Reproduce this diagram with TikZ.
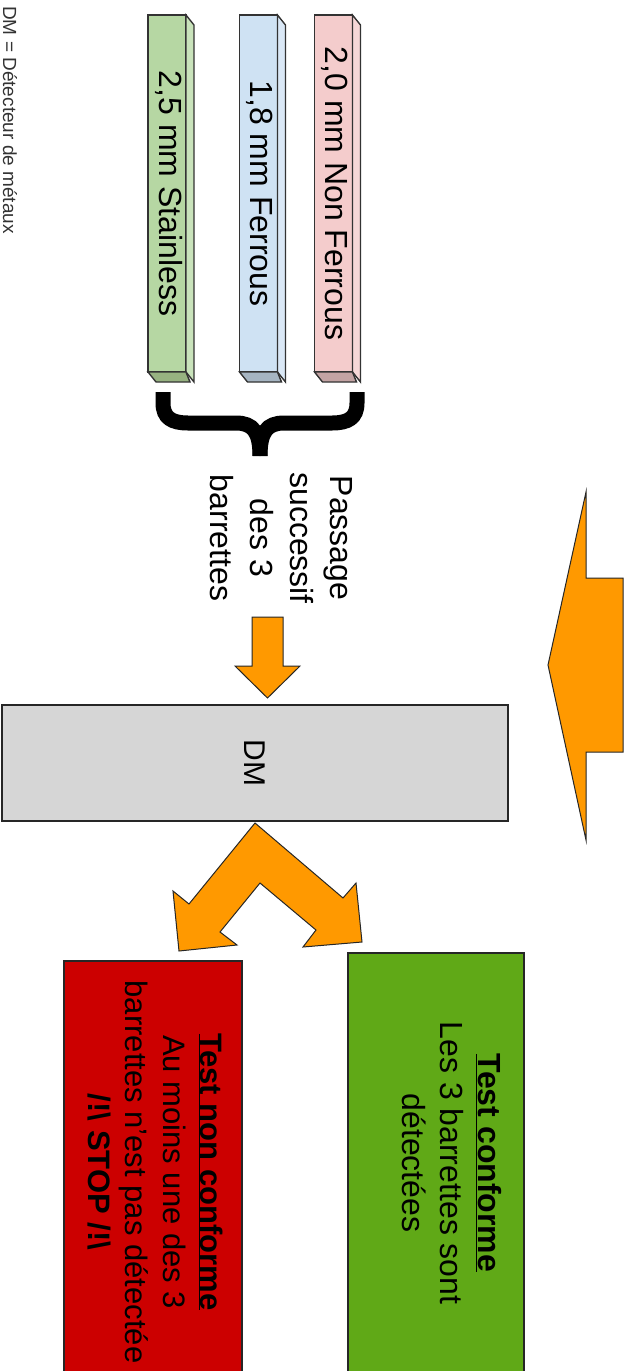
\documentclass[tikz,border=0pt]{standalone}
\usepackage{fontspec}
\setmainfont{Liberation Sans}
\usepackage{graphicx}
\definecolor{orng}{HTML}{FF9900}
\definecolor{dmgray}{HTML}{D6D6D6}
\definecolor{okgreen}{HTML}{60A917}
\definecolor{kored}{HTML}{CC0000}
\definecolor{gfront}{HTML}{B6D7A3}
\definecolor{gside}{HTML}{C9E3BB}
\definecolor{gbot}{HTML}{97B281}
\definecolor{bfront}{HTML}{CFE2F3}
\definecolor{bside}{HTML}{DAE8F6}
\definecolor{bbot}{HTML}{A6B5C2}
\definecolor{pfront}{HTML}{F4CCCC}
\definecolor{pside}{HTML}{F6D7D7}
\definecolor{pbot}{HTML}{C3A3A3}
\newcommand{\myvt}[1]{\rotatebox{-90}{\begin{tabular}{@{}c@{}}#1\end{tabular}}}
\begin{document}
\begin{tikzpicture}[x=1pt,y=-1pt,line join=miter,
  barface/.style={draw=black!80,line width=1.4pt,outer sep=0pt,inner sep=0pt,minimum width=34pt,minimum height=357pt,font=\fontsize{32}{38}\selectfont},
  facet/.style={draw=black!80,line width=1.4pt},
  blockarrow/.style={draw=black!85,fill=orng,line width=1pt},
  bigbox/.style={draw=black!85,line width=1.3pt,outer sep=0pt,inner sep=0pt},
  lbl/.style={font=\fontsize{32}{38}\selectfont,inner sep=0pt},
  bracestroke/.style={line width=15pt,line cap=butt}]
\useasboundingbox (0,0) rectangle (629,1371);
\clip (0,0) rectangle (629,1371);

% legend
\node[rotate=-90,anchor=west,inner sep=0pt,font=\fontsize{19}{22}\selectfont,text=black!80] (legend) at (10,6) {DM = Détecteur de métaux};

% bars
\node[barface,fill=gfront] (gbar) at (167,193.5) {\myvt{2,5 mm Stainless}};
\draw[facet,fill=gside] (gbar.north east) -- ++(8,10) -- ++(0,357) -- (gbar.south east) -- cycle;
\draw[facet,fill=gbot] (gbar.south west) -- ++(8,10) -- ++(34,0) -- (gbar.south east) -- cycle;

\node[barface,fill=bfront] (bbar) at (258.5,193.5) {\myvt{1,8 mm Ferrous}};
\draw[facet,fill=bside] (bbar.north east) -- ++(8,10) -- ++(0,357) -- (bbar.south east) -- cycle;
\draw[facet,fill=bbot] (bbar.south west) -- ++(8,10) -- ++(34,0) -- (bbar.south east) -- cycle;

\node[barface,fill=pfront] (pbar) at (333.5,193.5) {\myvt{2,0 mm Non Ferrous}};
\draw[facet,fill=pside] (pbar.north east) -- ++(8,10) -- ++(0,357) -- (pbar.south east) -- cycle;
\draw[facet,fill=pbot] (pbar.south west) -- ++(8,10) -- ++(34,0) -- (pbar.south east) -- cycle;

% brace
\coordinate (bl) at (163,392);
\coordinate (br) at (357,392);
\coordinate (btip) at (260,456);
\draw[bracestroke] (bl) -- (163,403) .. controls (163,418) and (172,423) .. (188,423) -- (236,423) .. controls (253,423) and (260,432) .. (btip);
\draw[bracestroke] (br) -- (357,403) .. controls (357,418) and (348,423) .. (332,423) -- (284,423) .. controls (267,423) and (260,432) .. (btip);

\node[lbl,font=\fontsize{32}{40}\selectfont] (passage) at (278,538) {\myvt{Passage\\successif\\des 3\\barrettes}};

% small down arrow
\draw[blockarrow] (252,617) -- (283,617) -- (283,666) -- (300,666) -- (267.5,698) -- (235,666) -- (252,666) -- cycle;

% DM
\node[bigbox,fill=dmgray,minimum width=506pt,minimum height=116pt,font=\fontsize{30}{36}\selectfont] (dm) at (255,763) {\rotatebox{-90}{DM}};

% big left arrow
\draw[blockarrow] (548,665) -- (586,492) -- (586,578) -- (623,578) -- (623,752) -- (586,752) -- (586,840) -- cycle;

% split arrow
\draw[blockarrow] (255,823) -- (343,898) -- (356,883) -- (362,942) -- (303,947) -- (316,930) -- (260,883) -- (220,932) -- (237,945) -- (179,951) -- (173,891) -- (189,904) -- cycle;

% result boxes
\node[bigbox,fill=okgreen,minimum width=176pt,minimum height=440pt] (ok) at (436,1173) {};
\node[lbl] (oktext) at (448,1163) {\myvt{\underline{\textbf{Test conforme}}\\Les 3 barrettes sont\\détectées}};

\node[bigbox,fill=kored,minimum width=178pt,minimum height=440pt] (ko) at (153,1181) {};
\node[lbl,font=\fontsize{31}{37.5}\selectfont] (kotext) at (152,1172) {\myvt{\underline{\textbf{Test non conforme}}\\Au moins une des 3\\barrettes n'est pas détectée\\\textbf{/!\textbackslash{} STOP /!\textbackslash}}};
\end{tikzpicture}
\end{document}
